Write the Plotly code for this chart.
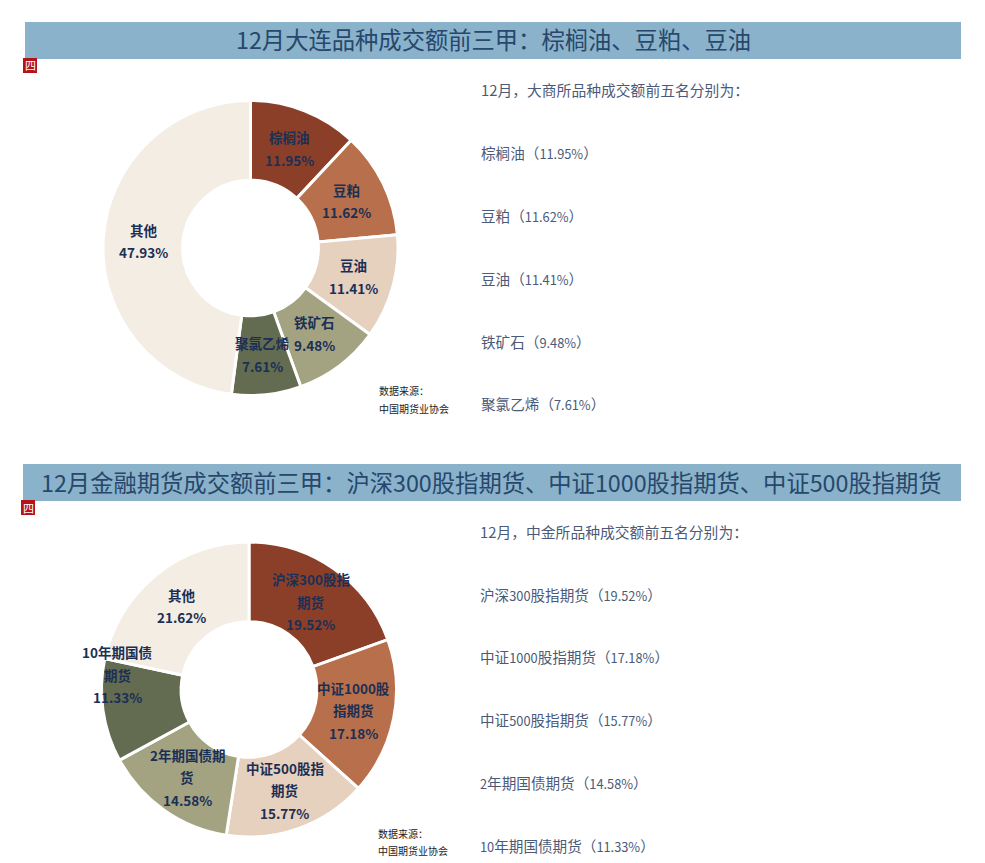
import math
import re
import plotly.graph_objects as go

W, H = 985, 863
FONT = "Noto Sans CJK SC"

titles = ["12月大连品种成交额前三甲：棕榈油、豆粕、豆油",
          "12月金融期货成交额前三甲：沪深300股指期货、中证1000股指期货、中证500股指期货"]

labels_a = ["棕榈油", "豆粕", "豆油", "铁矿石", "聚氯乙烯", "其他"]
values_a = [11.95, 11.62, 11.41, 9.48, 7.61, 47.93]
labels_b = ["沪深300股指|期货", "中证1000股|指期货", "中证500股指|期货", "2年期国债期|货", "10年期国债|期货", "其他"]
values_b = [19.52, 17.18, 15.77, 14.58, 11.33, 21.62]
colors = ["#8C3F28", "#B86F4B", "#E6D0BE", "#A3A382", "#636B50", "#F3EDE4"]
# the one label that sits away from its slice's middle, in pixels
nudge_b = {4: (-26, -30)}

intro_a = "12月，大商所品种成交额前五名分别为："
intro_b = "12月，中金所品种成交额前五名分别为："
side_a = ["棕榈油（11.95%）", "豆粕（11.62%）", "豆油（11.41%）", "铁矿石（9.48%）", "聚氯乙烯（7.61%）"]
side_b = ["沪深300股指期货（19.52%）", "中证1000股指期货（17.18%）", "中证500股指期货（15.77%）", "2年期国债期货（14.58%）", "10年期国债期货（11.33%）"]
source = ["数据来源：", "中国期货业协会"]

fig = go.Figure()
shapes, ann = [], []

def px(x): return x / W
def py(y): return 1 - y / H

def text(x, y, s, size, color, anchor="left"):
    ann.append(dict(x=px(x), y=py(y), xref="paper", yref="paper", text=s, showarrow=False,
                    xanchor=anchor, yanchor="middle", borderpad=0, borderwidth=0,
                    font=dict(family=FONT, size=size, color=color)))

def rect(x0, y0, x1, y1, color):
    shapes.append(dict(type="rect", xref="paper", yref="paper", x0=px(x0), x1=px(x1),
                       y0=py(y1), y1=py(y0), fillcolor=color, line=dict(width=0)))

def donut(labels, values, cx, cy, r, nudge=None):
    nudge = nudge or {}
    fig.add_trace(go.Pie(
        labels=[l.replace("|", "") for l in labels], values=values, sort=False,
        direction="clockwise", rotation=0, hole=0.46, showlegend=False, textinfo="none",
        domain=dict(x=[px(cx - r), px(cx + r)], y=[py(cy + r), py(cy - r)]),
        marker=dict(colors=colors, line=dict(color="#ffffff", width=3)),
        hoverinfo="label+percent",
    ))
    total, cum = sum(values), 0
    pitch, rad = 22.5, 107
    for i, (lab, v) in enumerate(zip(labels, values)):
        mid = (cum + v / 2) / total * 2 * math.pi
        cum += v
        dx, dy = nudge.get(i, (0, 0))
        lx, ly = cx + rad * math.sin(mid) + dx, cy - rad * math.cos(mid) + dy
        lines = lab.split("|") + [f"{v:.2f}%"]
        for j, line in enumerate(lines):
            text(lx, ly + (j - (len(lines) - 1) / 2) * pitch, f"<b>{line}</b>", 13.5, "#1B2F55", "center")

donut(labels_a, values_a, 250.5, 248, 147.5)
donut(labels_b, values_b, 249, 689.5, 147.5, nudge_b)

for i, (top, tx) in enumerate([(22, 493), (464, 491)]):
    left = 25 if i == 0 else 23
    rect(left, top, 961, top + 37, "#8AB2CB")
    text(tx, top + 17.5, titles[i], 23.3, "#27476B", "center")
    rect(left - 2, top + 36, left + 12, top + 51, "#B5121B")
    text(left + 5, top + 43.5, "四", 11, "#ffffff", "center")

def tighten(s):
    # digits in the side notes are set smaller than the Chinese around them
    return re.sub(r"([0-9.%]+)", r'<span style="font-size:12.8px">\1</span>', s)

for x, ys, intro, side in [(481, [89.5, 152.5, 215.5, 278.5, 341.5, 403.5], intro_a, side_a),
                           (480, [531.5, 594.5, 656.5, 719.5, 782.5, 845.5], intro_b, side_b)]:
    text(x, ys[0], intro, 14.8, "#4B5A78")
    for y, s in zip(ys[1:], side):
        text(x, y, tighten(s), 14.6, "#4B5A78")

for x, y0 in [(379, 391), (378, 833)]:
    text(x, y0, source[0], 10, "#222222")
    text(x, y0 + 17, source[1], 10, "#222222")

fig.update_layout(width=W, height=H, margin=dict(l=0, r=0, t=0, b=0),
                  paper_bgcolor="#ffffff", plot_bgcolor="#ffffff",
                  shapes=shapes, annotations=ann)
fig.write_html("out.html", post_script="document.body.style.margin='0';", config=dict(displayModeBar=False))
